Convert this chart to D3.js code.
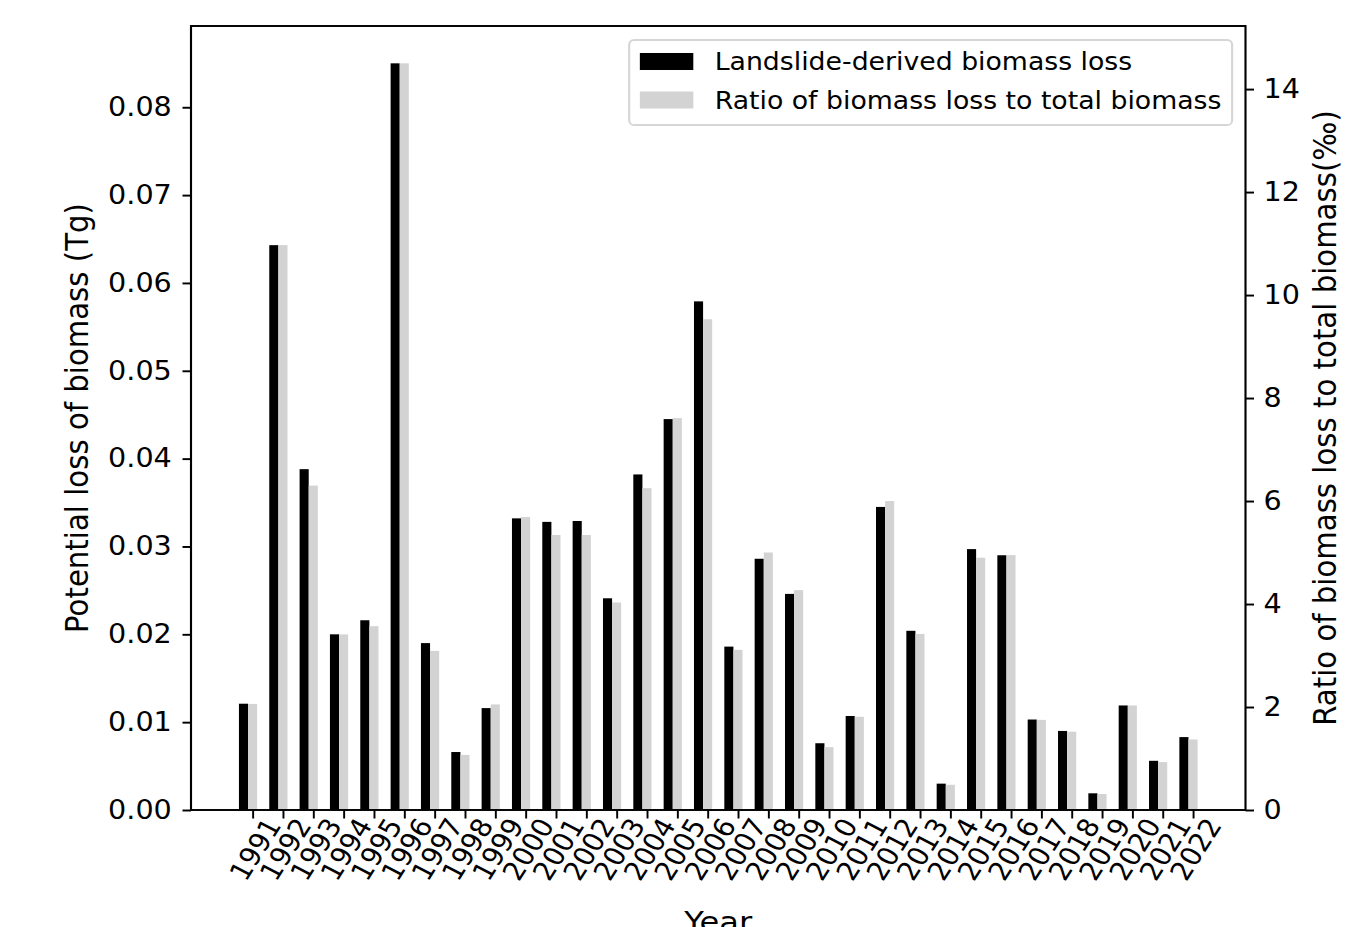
<!DOCTYPE html>
<html>
<head>
<meta charset="utf-8">
<script src="https://cdn.jsdelivr.net/npm/d3@7"></script>
<style>
  html, body { margin: 0; padding: 0; background: #fff; overflow: hidden; }
  svg { display: block; }
  text { font-family: "DejaVu Sans", sans-serif; fill: #000; }
</style>
</head>
<body>
<svg id="chart"></svg>
<script>
// Years on the x axis
const years = [1991, 1992, 1993, 1994, 1995, 1996, 1997, 1998, 1999, 2000,
               2001, 2002, 2003, 2004, 2005, 2006, 2007, 2008, 2009, 2010,
               2011, 2012, 2013, 2014, 2015, 2016, 2017, 2018, 2019, 2020,
               2021, 2022];

// Landslide-derived biomass loss (Tg), left axis
const biomassLoss = [0.0121, 0.0643, 0.0388, 0.0200, 0.0216, 0.0850, 0.0190, 0.0066,
                     0.0116, 0.0332, 0.0328, 0.0329, 0.0241, 0.0382, 0.0445, 0.0579,
                     0.0186, 0.0286, 0.0246, 0.0076, 0.0107, 0.0345, 0.0204, 0.0030,
                     0.0297, 0.0290, 0.0103, 0.0090, 0.0019, 0.0119, 0.0056, 0.0083];

// Ratio of biomass loss to total biomass (‰), right axis
const lossRatio = [2.06, 10.97, 6.30, 3.41, 3.57, 14.50, 3.09, 1.07,
                   2.05, 5.69, 5.34, 5.34, 4.03, 6.25, 7.61, 9.53,
                   3.11, 5.00, 4.27, 1.22, 1.81, 6.00, 3.42, 0.49,
                   4.90, 4.95, 1.75, 1.52, 0.31, 2.03, 0.93, 1.37];

const leftTicks = [0, 0.01, 0.02, 0.03, 0.04, 0.05, 0.06, 0.07, 0.08];
const rightTicks = [0, 2, 4, 6, 8, 10, 12, 14];

const seriesNames = ["Landslide-derived biomass loss", "Ratio of biomass loss to total biomass"];
const seriesColors = ["#000000", "#d3d3d3"];

const xLabel = "Year";
const yLeftLabel = "Potential loss of biomass (Tg)";
const yRightLabel = "Ratio of biomass loss to total biomass(‰)";

// ---- layout (drawn in an unstretched space, then widened to the page) ----
const WIDTH = 1361, HEIGHT = 927, SX = 1.1;
const VW = WIDTH / SX;
const FS_TICK = 26;       // tick label font size
const FS_LEG = 24.3;      // legend font size
const FS_LABEL = 29.2;    // axis label font size
const LW = 1.94;          // spine / tick line width
const TICK = 8.5, PAD = 8.5;

const plot = { left: 191 / SX, right: 1245.5 / SX, top: 26, bottom: 810 };

const svg = d3.select("#chart")
  .attr("width", WIDTH)
  .attr("height", HEIGHT)
  .attr("viewBox", `0 0 ${VW} ${HEIGHT}`)
  .attr("preserveAspectRatio", "none");

const barW = 0.3;
const idx = years.map((d, i) => i);
const xMin = -0.45, xMax = years.length - 1 + 0.15;
const xMargin = (xMax - xMin) * 0.05;

const x = d3.scaleLinear()
  .domain([xMin - xMargin, xMax + xMargin])
  .range([plot.left, plot.right]);

const yLeft = d3.scaleLinear()
  .domain([0, d3.max(biomassLoss) * 1.05])
  .range([plot.bottom, plot.top]);

const yRight = d3.scaleLinear()
  .domain([0, d3.max(lossRatio) * 1.05])
  .range([plot.bottom, plot.top]);

// ---- bars ----
const bars = svg.append("g");
bars.selectAll("rect.loss")
  .data(idx)
  .join("rect")
  .attr("class", "loss")
  .attr("x", i => x(i - 1.5 * barW))
  .attr("width", x(barW) - x(0))
  .attr("y", i => yLeft(biomassLoss[i]))
  .attr("height", i => yLeft(0) - yLeft(biomassLoss[i]))
  .attr("fill", seriesColors[0]);

bars.selectAll("rect.ratio")
  .data(idx)
  .join("rect")
  .attr("class", "ratio")
  .attr("x", i => x(i - 0.5 * barW))
  .attr("width", x(barW) - x(0))
  .attr("y", i => yRight(lossRatio[i]))
  .attr("height", i => yRight(0) - yRight(lossRatio[i]))
  .attr("fill", seriesColors[1]);

// ---- axes ----
function styleAxis(g) {
  g.select(".domain").remove();
  g.selectAll(".tick line").attr("stroke", "#000").attr("stroke-width", LW);
  g.selectAll(".tick text")
    .attr("font-family", "DejaVu Sans")
    .attr("font-size", FS_TICK)
    .attr("fill", "#000");
}

svg.append("g")
  .attr("transform", `translate(${plot.left},0)`)
  .call(d3.axisLeft(yLeft)
    .tickValues(leftTicks)
    .tickFormat(d3.format(".2f"))
    .tickSize(TICK / SX)
    .tickPadding(PAD / SX + 2))
  .call(styleAxis);

svg.append("g")
  .attr("transform", `translate(${plot.right},0)`)
  .call(d3.axisRight(yRight)
    .tickValues(rightTicks)
    .tickFormat(d3.format("d"))
    .tickSize(TICK / SX)
    .tickPadding(PAD / SX + 1))
  .call(styleAxis);

const gBottom = svg.append("g")
  .attr("transform", `translate(0,${plot.bottom})`)
  .call(d3.axisBottom(x)
    .tickValues(idx)
    .tickFormat(i => years[i])
    .tickSize(TICK)
    .tickPadding(PAD))
  .call(styleAxis);

// Year labels: rotated 60°, the rotated box centred under each tick
gBottom.selectAll(".tick line").attr("stroke-width", LW / SX);
const rot = Math.PI / 3;
const boxH = 1.164 * FS_TICK;
gBottom.selectAll(".tick text")
  .attr("dy", null)
  .attr("text-anchor", "middle")
  .each(function () {
    const w = this.getComputedTextLength();
    const halfH = (w * Math.sin(rot) + boxH * Math.cos(rot)) / 2;
    d3.select(this)
      .attr("y", 0.346 * FS_TICK)
      .attr("transform", `translate(2,${halfH + 3}) rotate(-60)`);
  });

// ---- frame ----
svg.append("rect")
  .attr("x", plot.left)
  .attr("y", plot.top)
  .attr("width", plot.right - plot.left)
  .attr("height", plot.bottom - plot.top)
  .attr("fill", "none")
  .attr("stroke", "#000")
  .attr("stroke-width", LW);

// ---- axis labels ----
svg.append("text")
  .attr("x", (plot.left + plot.right) / 2)
  .attr("y", 932)
  .attr("text-anchor", "middle")
  .attr("font-size", FS_LABEL)
  .text(xLabel);

svg.append("text")
  .attr("transform", `translate(${88 / SX},${(plot.top + plot.bottom) / 2}) rotate(-90)`)
  .attr("text-anchor", "middle")
  .attr("font-size", FS_LABEL)
  .text(yLeftLabel);

svg.append("text")
  .attr("transform", `translate(${1336 / SX},${(plot.top + plot.bottom) / 2}) rotate(-90)`)
  .attr("text-anchor", "middle")
  .attr("font-size", FS_LABEL)
  .text(yRightLabel);

// ---- legend ----
const legend = svg.append("g");
const legendRight = plot.right - 0.5 * FS_LEG;
const legendTop = 40;
const borderPad = 0.4 * FS_LEG, handleLen = 2.0 * FS_LEG, handleGap = 0.8 * FS_LEG, handleH = 0.7 * FS_LEG;
const rowCenters = [61.5, 100];

const frame = legend.append("rect");
const labels = legend.selectAll("text")
  .data(seriesNames)
  .join("text")
  .attr("font-size", FS_LEG)
  .attr("y", (d, i) => rowCenters[i] + 0.729 * FS_LEG / 2)
  .text(d => d);

let textW = 0;
labels.each(function () { textW = Math.max(textW, this.getComputedTextLength()); });
const legendW = borderPad + handleLen + handleGap + textW + borderPad;
const legendLeft = legendRight - legendW;

frame
  .attr("x", legendLeft)
  .attr("y", legendTop)
  .attr("width", legendW)
  .attr("height", 85)
  .attr("rx", 0.2 * FS_LEG / SX)
  .attr("ry", 0.2 * FS_LEG)
  .attr("fill", "rgba(255,255,255,0.8)")
  .attr("stroke", "#d6d6d6")
  .attr("stroke-width", LW);

legend.selectAll("rect.handle")
  .data(seriesNames)
  .join("rect")
  .attr("class", "handle")
  .attr("x", legendLeft + borderPad)
  .attr("y", (d, i) => rowCenters[i] - handleH / 2)
  .attr("width", handleLen)
  .attr("height", handleH)
  .attr("fill", (d, i) => seriesColors[i]);

labels.attr("x", legendLeft + borderPad + handleLen + handleGap);
</script>
</body>
</html>
